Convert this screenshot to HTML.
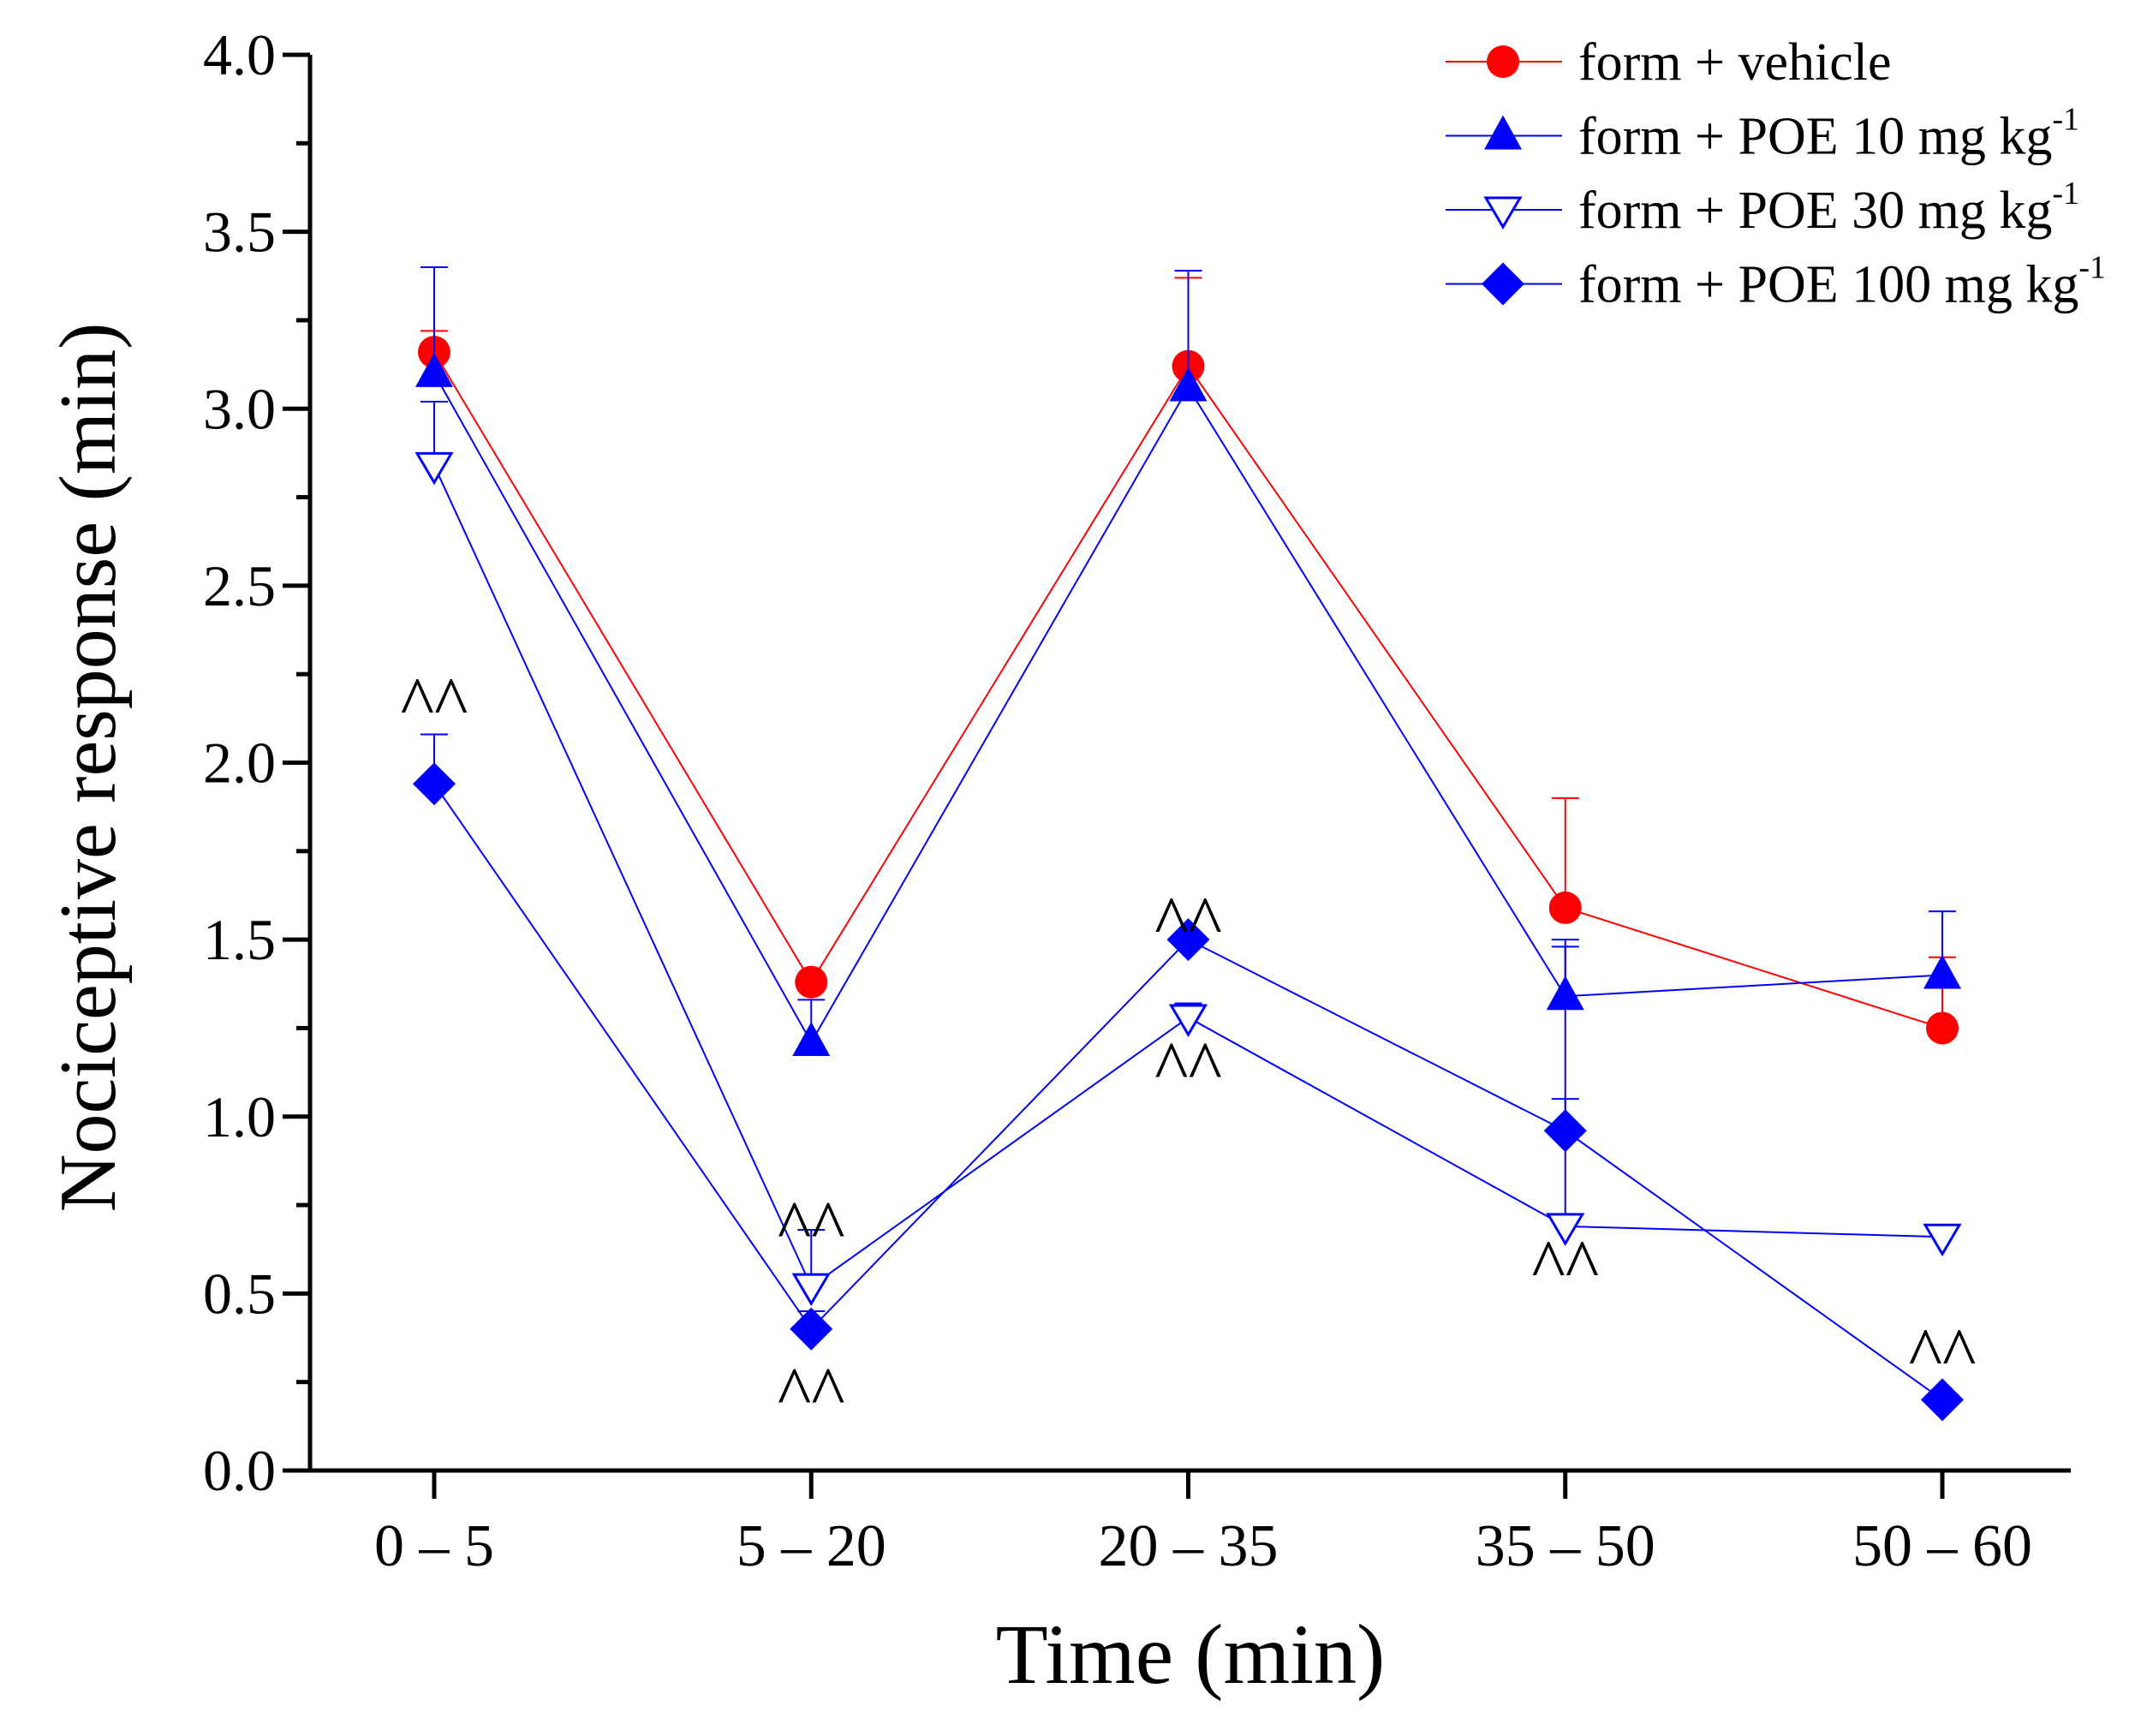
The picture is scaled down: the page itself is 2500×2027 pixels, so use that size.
<!DOCTYPE html>
<html><head><meta charset="utf-8"><style>
html,body{margin:0;padding:0;background:#fff;}
svg{display:block;font-family:"Liberation Serif",serif;}
</style></head><body>
<svg id="chart" width="2500" height="2027" viewBox="0 0 2500 2027" xmlns="http://www.w3.org/2000/svg">
<g id="axes"></g>
<g id="series"></g>
<g id="legend"></g>
<text x="1390" y="1965" font-size="100" text-anchor="middle">Time (min)</text>
<text x="0" y="0" font-size="94" text-anchor="middle" transform="translate(134,896) rotate(-90)">Nociceptive response (min)</text>
</svg>
<script>
const categories = ["0 – 5","5 – 20","20 – 35","35 – 50","50 – 60"];
const yTicks = [0,0.5,1,1.5,2,2.5,3,3.5,4];
const vehicle = [3.16,1.38,3.12,1.59,1.25];
const vehicleErr = [3.22,1.40,3.37,1.90,1.45];
const poe10 = [3.10,1.21,3.06,1.34,1.40];
const poe10Err = [3.40,1.33,3.39,1.50,1.58];
const poe30 = [2.84,0.52,1.28,0.69,0.66];
const poe30Err = [3.02,0.68,1.32,1.48,0.68];
const poe100 = [1.94,0.40,1.50,0.96,0.20];
const poe100Err = [2.08,0.45,1.52,1.05,0.22];
const markCat = [0,1,1,2,2,3,4];
const markVal = [2.2,0.72,0.25,1.58,1.17,0.61,0.36];

const NS="http://www.w3.org/2000/svg";
const X0=507, DX=440.25, Y0=1717, PY=413.25;
const xs=i=>X0+i*DX, ys=v=>Y0-v*PY;
function mk(tag,attrs,parent){const e=document.createElementNS(NS,tag);for(const k in attrs)e.setAttribute(k,attrs[k]);parent.appendChild(e);return e;}
const axes=document.getElementById('axes');
let a=mk('line',{x1:362,y1:64,x2:362,y2:1717,stroke:'#000','stroke-width':5},axes);


a=mk('line',{x1:330,y1:1717,x2:2418,y2:1717,stroke:'#000','stroke-width':5},axes);


yTicks.forEach(v=>{
  const t=mk('line',{x1:330,x2:362,y1:ys(v),y2:ys(v),stroke:'#000','stroke-width':5},axes);
  
  
  const l=mk('text',{x:322,y:ys(v)+23,'font-size':68,'text-anchor':'end'},axes);
  l.textContent=v.toFixed(1);
  
  
  if(v<4){const m=mk('line',{x1:346,x2:362,y1:ys(v+0.25),y2:ys(v+0.25),stroke:'#000','stroke-width':5},axes);
  
  }
});
categories.forEach((c,i)=>{
  const t=mk('line',{x1:xs(i),x2:xs(i),y1:1717,y2:1750,stroke:'#000','stroke-width':5},axes);
  
  
  const l=mk('text',{x:xs(i),y:1828,'font-size':70,'text-anchor':'middle'},axes);
  l.textContent=c;
  
  
});
const sg=document.getElementById('series');
function marker(type,x,y,color,parent){
  let e;
  if(type==='circle') e=mk('circle',{cx:x,cy:y,r:19,fill:color},parent);
  else if(type==='tri') e=mk('polygon',{points:`${x},${y-24} ${x-22},${y+16} ${x+22},${y+16}`,fill:color},parent);
  else if(type==='itri') e=mk('polygon',{points:`${x-20},${y-14} ${x+20},${y-14} ${x},${y+20}`,fill:'#fff',stroke:color,'stroke-width':3},parent);
  else e=mk('polygon',{points:`${x},${y-25} ${x+25},${y} ${x},${y+25} ${x-25},${y}`,fill:color},parent);
  return e;
}
const series=[
 {name:'vehicle',vals:vehicle,err:vehicleErr,color:'#ff0000',type:'circle',label:'form + vehicle'},
 {name:'poe-10',vals:poe10,err:poe10Err,color:'#0000ff',type:'tri',label:'form + POE 10 mg kg',sup:'-1'},
 {name:'poe-30',vals:poe30,err:poe30Err,color:'#0000ff',type:'itri',label:'form + POE 30 mg kg',sup:'-1'},
 {name:'poe-100',vals:poe100,err:poe100Err,color:'#0000ff',type:'dia',label:'form + POE 100 mg kg',sup:'-1'}
];
series.forEach(s=>{
  const g=mk('g',{},sg);
  
  
  s.vals.forEach((v,i)=>{
    const e=mk('line',{x1:xs(i),x2:xs(i),y1:ys(v),y2:ys(s.err[i]),stroke:s.color,'stroke-width':2},g);
    
    
    const c=mk('line',{x1:xs(i)-16,x2:xs(i)+16,y1:ys(s.err[i]),y2:ys(s.err[i]),stroke:s.color,'stroke-width':2},g);
    
    
  });
  const pl=mk('polyline',{points:s.vals.map((v,i)=>xs(i)+','+ys(v)).join(' '),fill:'none',stroke:s.color,'stroke-width':2},g);
  
  
  s.vals.forEach((v,i)=>{
    const m=marker(s.type,xs(i),ys(v),s.color,g);
    
    
  });
});
markCat.forEach((c,k)=>{
  const t=mk('text',{x:xs(c),y:ys(markVal[k])+40,'font-size':84,'text-anchor':'middle'},sg);
  t.textContent='^^';
  
  
});
const lg=document.getElementById('legend');
series.forEach((s,k)=>{
  const y=72+k*86.5;
  const g=mk('g',{},lg);
  
  
  mk('line',{x1:1688,x2:1824,y1:y,y2:y,stroke:s.color,'stroke-width':2},g);
  marker(s.type,1755,y,s.color,g);
  const t=mk('text',{x:1843,y:y+21,'font-size':62},g);
  t.textContent=s.label;
  if(s.sup){const sp=mk('tspan',{'font-size':38,dy:-28},t);sp.textContent=s.sup;}
});
</script>
</body></html>
